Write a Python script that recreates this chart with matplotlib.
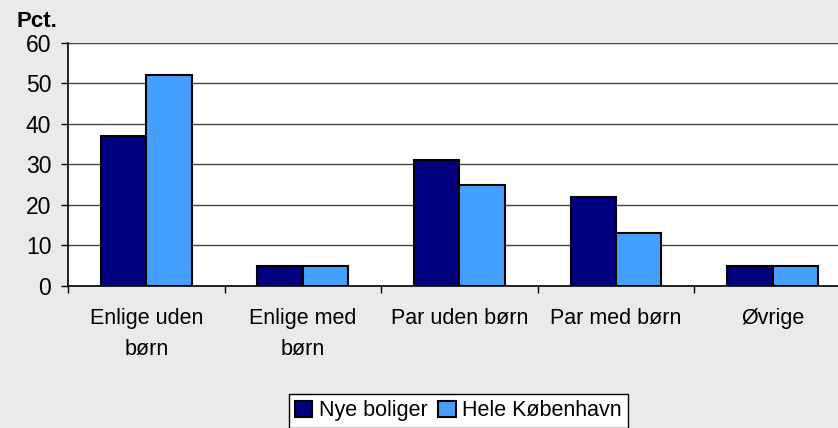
import matplotlib.pyplot as plt
import numpy as np

plt.rcParams['font.family'] = ['Liberation Sans', 'DejaVu Sans']

kategorier = ['Enlige uden\nbørn', 'Enlige med\nbørn', 'Par uden børn', 'Par med børn', 'Øvrige']
nye_boliger = [37, 5, 31, 22, 5]
hele_kbh = [52, 5, 25, 13, 5]
serier = ['Nye boliger', 'Hele København']

fig = plt.figure(figsize=(8.38, 4.28), dpi=100, facecolor='#EAEAEA')
# plotområdet går ud over højre kant, ligesom i Excel-udklippet
ax = fig.add_axes([0.0811, 0.3318, 0.9344, 0.5678])
ax.set_facecolor('white')

x = np.arange(len(kategorier))
w = 0.29
ax.bar(x - w/2, nye_boliger, w, color='#000080', edgecolor='black', lw=1.5, label=serier[0], zorder=3)
ax.bar(x + w/2, hele_kbh, w, color='#44A0FF', edgecolor='black', lw=1.5, label=serier[1], zorder=3)

ax.set_xlim(-0.5, len(kategorier) - 0.5)
ax.set_ylim(0, 60)
ax.set_yticks(range(0, 61, 10))
ax.yaxis.grid(True, color='#444444', lw=1, zorder=0)

# skillestreger mellem kategorier, tekst midt i hver kategori
ax.set_xticks(np.arange(len(kategorier) + 1) - 0.5)
ax.set_xticklabels([])
ax.set_xticks(x, minor=True)
ax.set_xticklabels(kategorier, minor=True, fontsize=15.5, linespacing=1.6)
ax.tick_params(axis='x', which='minor', length=0, pad=16)
ax.tick_params(axis='x', which='major', length=5, width=1, direction='out')
ax.tick_params(axis='y', length=5, width=1, labelsize=16.5, pad=7)

for s in ['top', 'right']:
    ax.spines[s].set_visible(False)
ax.spines['left'].set_linewidth(1.2)
ax.spines['bottom'].set_linewidth(1.2)
ax.axhline(60, color='#999999', lw=1.5, zorder=1)

fig.text(0.02, 0.95, 'Pct.', fontsize=16, fontweight='bold', ha='left', va='center')

leg = fig.legend(loc='center', bbox_to_anchor=(0.547, 0.04), ncol=2, fontsize=15.5,
                 frameon=True, fancybox=False, edgecolor='black', framealpha=1,
                 handlelength=0.8, handleheight=0.8, handletextpad=0.3,
                 columnspacing=0.5, borderpad=0.3)
leg.get_frame().set_linewidth(1)

fig.savefig('out.png', dpi=100, facecolor=fig.get_facecolor())
